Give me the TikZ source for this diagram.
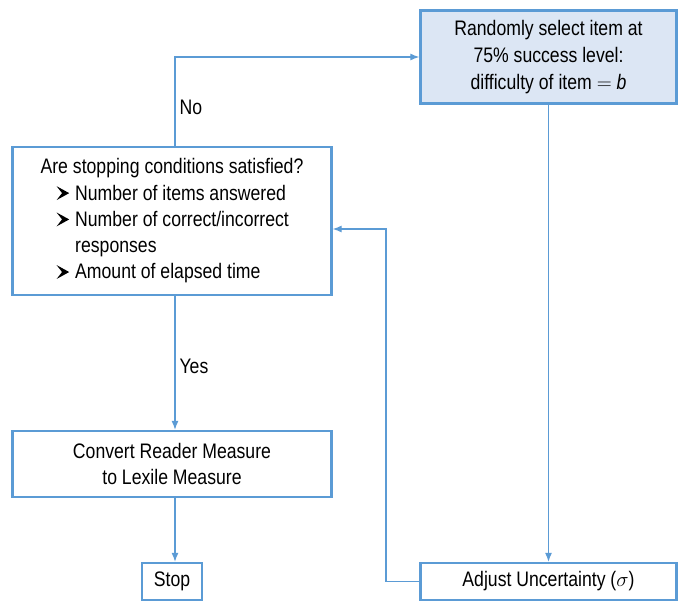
\documentclass[tikz,border=0pt]{standalone}
\usepackage{fontspec}
\setmainfont{Liberation Sans}[FakeStretch=0.84]
\usetikzlibrary{arrows.meta}
\definecolor{bordblue}{RGB}{91,155,213}
\definecolor{fillblue}{RGB}{220,230,244}
\newcommand\bul{\tikz[baseline=0pt]\fill (0,0)--(0.26em,0.33em)--(0,0.66em)--(0.6em,0.33em)--cycle;}
\begin{document}
\begin{tikzpicture}[x=1pt,y=-1pt,
  box/.style={draw=bordblue,line width=2.3pt,inner sep=0pt,align=center,
    font=\fontsize{21}{26.8}\selectfont},
  conn/.style={draw=bordblue,line width=1.2pt,-{Latex[length=9pt,width=7pt]}},
  lbl/.style={font=\fontsize{21}{24}\selectfont}]
\useasboundingbox (0,0) rectangle (679,601);
\node[box,fill=fillblue,minimum width=256pt,minimum height=93pt] (sel) at (548.5,57)
  {Randomly select item at\\75\% success level:\\difficulty of item $=$ \textit{b}};
\node[box,minimum width=319pt,minimum height=148pt] (cond) at (172,221)
  {\begin{tabular}{@{}l@{}}
   Are stopping conditions satisfied?\\[-0.5pt]
   \hspace*{16pt}\bul\hspace{6pt}Number of items answered\\[-0.5pt]
   \hspace*{16pt}\bul\hspace{6pt}Number of correct/incorrect\\[-0.5pt]
   \hspace*{16pt}\phantom{\bul}\hspace{6pt}responses\\[-0.5pt]
   \hspace*{16pt}\bul\hspace{6pt}Amount of elapsed time
   \end{tabular}};
\node[box,minimum width=319pt,minimum height=66pt] (conv) at (172,464)
  {Convert Reader Measure\\to Lexile Measure};
\node[box,minimum width=60pt,minimum height=37pt] (stop) at (172,581.5) {Stop};
\node[box,minimum width=256pt,minimum height=37pt] (adj) at (548.5,581.5)
  {Adjust Uncertainty ($\sigma$)};
\coordinate (c1) at (175,57);
\coordinate (c2) at (386,581.5);
\coordinate (c3) at (386,229);
\draw[conn] (cond.north -| c1) -- (c1) -- (sel.west);
\draw[conn] (sel.south) -- (adj.north);
\draw[conn] (adj.west) -- (c2) -- (c3) -- (c3 -| cond.east);
\draw[conn] (cond.south -| c1) -- (conv.north -| c1);
\draw[conn] (conv.south -| c1) -- (stop.north -| c1);
\node[lbl,anchor=west] (no) at (176,107) {No};
\node[lbl,anchor=west] (yes) at (176,366) {Yes};
\end{tikzpicture}
\end{document}
